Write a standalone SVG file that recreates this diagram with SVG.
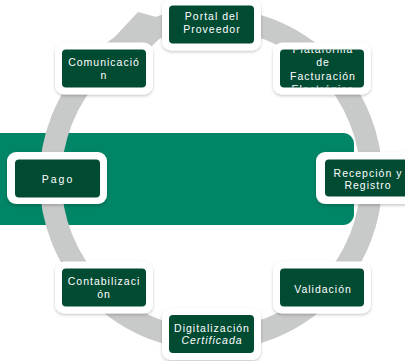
<svg xmlns="http://www.w3.org/2000/svg" width="405" height="361" viewBox="0 0 405 361">
<defs>
<filter id="sh" x="-20%" y="-20%" width="140%" height="150%">
<feDropShadow dx="0" dy="1.5" stdDeviation="1.5" flood-color="#000" flood-opacity="0.22"/>
</filter>
<clipPath id="clipPlat"><rect x="280" y="49.5" width="84" height="38" rx="4"/></clipPath>
</defs>
<style>
.frame{fill:#ffffff;filter:url(#sh)}
.box{fill:#024b33}
.t{fill:#ffffff;font-family:"Liberation Sans",Arial,sans-serif;font-size:10.5px;letter-spacing:1px;text-anchor:middle}
.ring{fill:none;stroke:#c8cac9;stroke-width:22}
</style>
<rect x="-20" y="133" width="374" height="92" rx="11" fill="#008566"/>
<g id="connectors">
<circle class="ring" cx="211" cy="179" r="160.5"/>
<polygon points="110,42 138,12 176,22.6 152,46 120,60" fill="#c8cac9"/>
</g>
<g id="portal">
<rect class="frame" x="162" y="-1.5" width="99" height="52" rx="9"/>
<rect class="box" x="169" y="5.5" width="85" height="38" rx="4"/>
<text class="t" x="212" y="20">Portal del</text>
<text class="t" x="212" y="33">Proveedor</text>
</g>
<g id="plataforma">
<rect class="frame" x="273" y="42.5" width="98" height="52" rx="9"/>
<rect class="box" x="280" y="49.5" width="84" height="38" rx="4"/>
<g clip-path="url(#clipPlat)">
<text class="t" x="323" y="53">Plataforma</text>
<text class="t" x="323" y="66">de</text>
<text class="t" x="323" y="79.5">Facturación</text>
<text class="t" x="323" y="93">Electrónica</text>
</g>
</g>
<g id="comunicacion">
<rect class="frame" x="55" y="42.5" width="98" height="52" rx="9"/>
<rect class="box" x="62" y="49.5" width="84" height="38" rx="4"/>
<text class="t" x="104" y="66">Comunicació</text>
<text class="t" x="104" y="79">n</text>
</g>
<g id="pago">
<rect class="frame" x="7" y="152" width="100" height="52" rx="9"/>
<rect class="box" x="15" y="159.5" width="85" height="38" rx="4"/>
<text class="t" x="58" y="183" style="letter-spacing:2px">Pago</text>
</g>
<g id="recepcion">
<rect class="frame" x="316" y="152" width="100" height="52" rx="9"/>
<rect class="box" x="325" y="159.5" width="85" height="37" rx="4"/>
<text class="t" x="368" y="176.5">Recepción y</text>
<text class="t" x="368" y="188.5">Registro</text>
</g>
<g id="contabilizacion">
<rect class="frame" x="55" y="261.5" width="98" height="52" rx="9"/>
<rect class="box" x="62" y="268.5" width="84" height="38" rx="4"/>
<text class="t" x="104" y="285">Contabilizaci</text>
<text class="t" x="104" y="297.5">ón</text>
</g>
<g id="validacion">
<rect class="frame" x="273" y="261.5" width="98" height="52" rx="9"/>
<rect class="box" x="280" y="268.5" width="84" height="38" rx="4"/>
<text class="t" x="323" y="293">Validación</text>
</g>
<g id="digitalizacion">
<rect class="frame" x="162" y="308" width="99" height="52" rx="9"/>
<rect class="box" x="169" y="315" width="85" height="38" rx="4"/>
<text class="t" x="212" y="332">Digitalización</text>
<text class="t" x="212" y="344" font-style="italic">Certificada</text>
</g>
</svg>
